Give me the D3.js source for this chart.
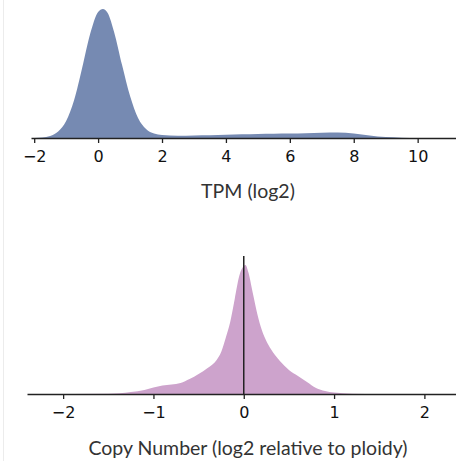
<!DOCTYPE html>
<html>
<head>
<meta charset="utf-8">
<script src="https://cdn.jsdelivr.net/npm/d3@7"></script>
<style>
  body { margin: 0; background: #fff; }
  .tick text { font-family: "DejaVu Sans", sans-serif; }
</style>
</head>
<body>
<div id="chart"></div>
<script>
// TPM (log2) density
const tpmX = [-2.0, -1.75, -1.5, -1.25, -1.0, -0.75, -0.5, -0.25, 0.0, 0.15, 0.3, 0.5, 0.75, 1.0, 1.25, 1.5, 1.75, 2.0,
  2.5, 3.0, 3.5, 4.0, 4.5, 5.0, 5.5, 6.0, 6.5, 7.0, 7.5, 8.0, 8.5, 9.0, 9.5, 10.0];
const tpmDensity = [0, 0.003, 0.011, 0.035, 0.092, 0.206, 0.380, 0.564, 0.684, 0.700, 0.678, 0.575, 0.396, 0.228, 0.109, 0.049, 0.024, 0.016,
  0.012, 0.014, 0.015, 0.017, 0.020, 0.022, 0.023, 0.024, 0.026, 0.029, 0.030, 0.024, 0.014, 0.005, 0.002, 0];
const tpmTicks = [-2, 0, 2, 4, 6, 8, 10];

// Copy number density
const cnX = [-2.3, -1.5, -1.25, -1.1, -1.0, -0.9, -0.8, -0.7, -0.6, -0.5, -0.4, -0.3, -0.25, -0.2, -0.15, -0.1, -0.05, 0.0, 0.02,
  0.05, 0.1, 0.15, 0.2, 0.25, 0.3, 0.4, 0.5, 0.6, 0.7, 0.8, 0.9, 1.0, 1.2, 1.5, 2.3];
const cnDensity = [0, 0.006, 0.040, 0.081, 0.131, 0.171, 0.192, 0.222, 0.302, 0.403, 0.524, 0.685, 0.847, 1.129, 1.452, 1.915, 2.379, 2.580, 2.600,
  2.460, 2.036, 1.613, 1.290, 1.068, 0.907, 0.665, 0.484, 0.363, 0.242, 0.121, 0.060, 0.030, 0.006, 0, 0];
const cnTicks = [-2, -1, 0, 1, 2];

const width = 456, height = 461;

const svg = d3.select('#chart').append('svg')
    .attr('width', width)
    .attr('height', height);

// faint frame line on the left
svg.append('line')
    .attr('x1', 3.5).attr('x2', 3.5)
    .attr('y1', 0).attr('y2', height)
    .attr('stroke', '#ececec')
    .attr('stroke-width', 1);

function densityPanel(opts) {
    const x = d3.scaleLinear().domain(opts.domain).range([opts.left, width]);
    const y = d3.scaleLinear().domain([0, d3.max(opts.dens)]).range([opts.base, opts.top]);
    const pts = opts.xs.map((v, i) => [v, opts.dens[i]]);

    const area = d3.area()
        .x(d => x(d[0]))
        .y0(y(0))
        .y1(d => y(d[1]))
        .curve(d3.curveMonotoneX);

    svg.append('path')
        .datum(pts)
        .attr('fill', opts.color)
        .attr('d', area);

    const axis = svg.append('g')
        .attr('transform', `translate(0,${opts.base})`)
        .call(d3.axisBottom(x).tickValues(opts.ticks).tickFormat(d3.format('d'))
            .tickSize(5).tickPadding(8).tickSizeOuter(0));
    axis.select('.domain').attr('stroke', '#222').attr('stroke-width', 1.5);
    axis.selectAll('.tick line').attr('stroke', '#222').attr('stroke-width', 1.3);
    axis.selectAll('.tick text').attr('font-size', 16).attr('fill', '#111');

    svg.append('text')
        .attr('x', opts.labelX)
        .attr('y', opts.labelY)
        .attr('text-anchor', 'middle')
        .attr('font-family', 'Lato, sans-serif')
        .attr('font-size', 19.5)
        .attr('fill', '#333')
        .text(opts.label);

    return { x, y };
}

densityPanel({
    xs: tpmX, dens: tpmDensity, ticks: tpmTicks,
    domain: [-2.1, 11.2], left: 31, base: 138, top: 9,
    color: '#768ab2', label: 'TPM (log2)', labelX: 248, labelY: 198
});

const cn = densityPanel({
    xs: cnX, dens: cnDensity, ticks: cnTicks,
    domain: [-2.4, 2.35], left: 27, base: 394, top: 265,
    color: '#cda3cc', label: 'Copy Number (log2 relative to ploidy)', labelX: 248, labelY: 455
});

// reference line at zero
svg.append('line')
    .attr('x1', cn.x(0)).attr('x2', cn.x(0))
    .attr('y1', 256).attr('y2', 394)
    .attr('stroke', '#222')
    .attr('stroke-width', 1.5);
</script>
</body>
</html>
